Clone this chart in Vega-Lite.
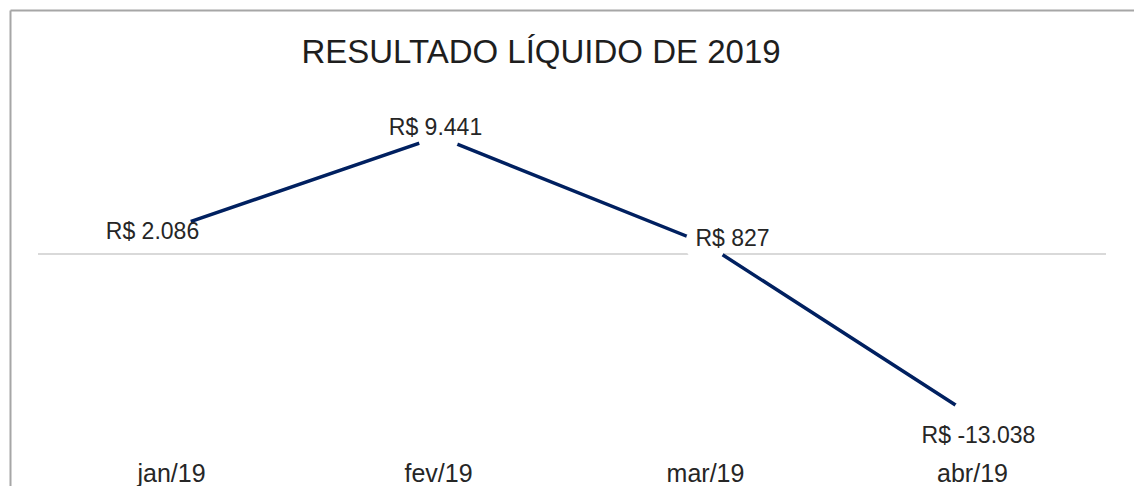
{
  "$schema": "https://vega.github.io/schema/vega-lite/v6.json",
  "width": 1124,
  "height": 476,
  "autosize": {"type": "none"},
  "padding": {"left": 10, "top": 10, "right": 0, "bottom": 0},
  "background": "#ffffff",
  "config": {"view": {"stroke": null}, "font": "Liberation Sans"},
  "title": {
    "text": "RESULTADO LÍQUIDO DE 2019",
    "font": "Liberation Sans",
    "fontSize": 33,
    "fontWeight": "normal",
    "color": "#1e1e1e",
    "anchor": "middle",
    "frame": "group",
    "baseline": "alphabetic",
    "offset": -53,
    "dx": -31,
    "dy": 33
  },
  "data": {
    "values": [
      {"mes": "jan/19", "valor": 2086, "rotulo": "R$ 2.086"},
      {"mes": "fev/19", "valor": 9441, "rotulo": "R$ 9.441"},
      {"mes": "mar/19", "valor": 827, "rotulo": "R$ 827"},
      {"mes": "abr/19", "valor": -13038, "rotulo": "R$ -13.038"}
    ]
  },
  "encoding": {
    "x": {
      "field": "mes",
      "type": "ordinal",
      "sort": null,
      "scale": {"type": "band", "paddingInner": 0, "paddingOuter": 0.10487},
      "axis": {
        "orient": "bottom",
        "title": null,
        "domain": false,
        "ticks": false,
        "grid": false,
        "labelAngle": 0,
        "labelFont": "Liberation Sans",
        "labelFontSize": 25,
        "labelColor": "#262626",
        "labelBaseline": "alphabetic",
        "labelPadding": -5
      }
    },
    "y": {
      "field": "valor",
      "type": "quantitative",
      "scale": {"domain": [-18664, 19630], "nice": false, "zero": false},
      "axis": {
        "orient": "left",
        "title": null,
        "labels": false,
        "ticks": false,
        "domain": true,
        "domainColor": "#a6a6a6",
        "domainWidth": 2,
        "grid": true,
        "gridColor": "#a6a6a6",
        "gridWidth": 2,
        "values": [19630]
      }
    }
  },
  "layer": [
    {
      "mark": {"type": "bar", "fill": "#d9d9d9", "stroke": "#d9d9d9", "strokeWidth": 2},
      "encoding": {
        "y": {
          "datum": 0,
          "type": "quantitative",
          "axis": {
            "orient": "left",
            "title": null,
            "labels": false,
            "ticks": false,
            "domain": true,
            "domainColor": "#a6a6a6",
            "domainWidth": 2,
            "grid": true,
            "gridColor": "#a6a6a6",
            "gridWidth": 2,
            "values": [19630]
          }
        },
        "y2": {"datum": 0}
      }
    },
    {
      "mark": {"type": "line", "color": "#002060", "strokeWidth": 3.5}
    },
    {
      "mark": {"type": "point", "filled": true, "color": "#ffffff", "opacity": 1, "size": 1662, "strokeWidth": 0}
    },
    {
      "transform": [{"filter": "datum.mes === 'jan/19'"}],
      "mark": {"type": "text", "font": "Liberation Sans", "fontSize": 23, "color": "#262626", "align": "center", "baseline": "alphabetic", "dx": -19, "dy": 11},
      "encoding": {"text": {"field": "rotulo"}}
    },
    {
      "transform": [{"filter": "datum.mes === 'fev/19'"}],
      "mark": {"type": "text", "font": "Liberation Sans", "fontSize": 23, "color": "#262626", "align": "center", "baseline": "alphabetic", "dx": -3, "dy": -2},
      "encoding": {"text": {"field": "rotulo"}}
    },
    {
      "transform": [{"filter": "datum.mes === 'mar/19'"}],
      "mark": {"type": "text", "font": "Liberation Sans", "fontSize": 23, "color": "#262626", "align": "center", "baseline": "alphabetic", "dx": 27, "dy": 2},
      "encoding": {"text": {"field": "rotulo"}}
    },
    {
      "transform": [{"filter": "datum.mes === 'abr/19'"}],
      "mark": {"type": "text", "font": "Liberation Sans", "fontSize": 23, "color": "#262626", "align": "center", "baseline": "alphabetic", "dx": 6, "dy": 27},
      "encoding": {"text": {"field": "rotulo"}}
    }
  ]
}
